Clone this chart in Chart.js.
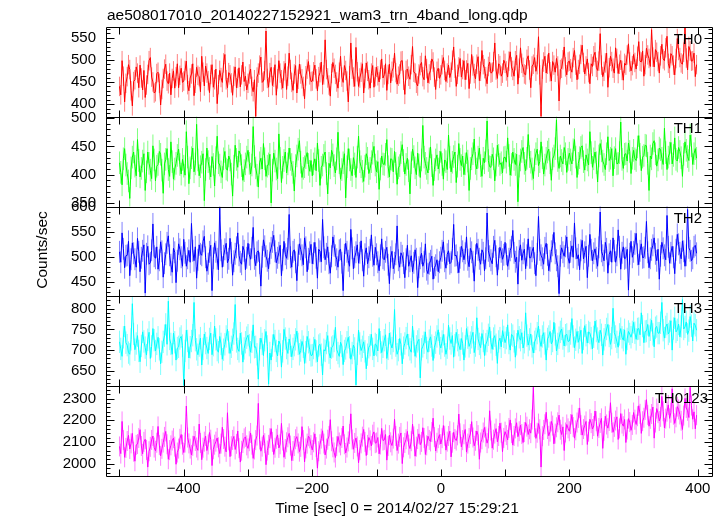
<!DOCTYPE html>
<html>
<head>
<meta charset="utf-8">
<title>ae508017010 WAM light curve</title>
<script src="https://cdn.jsdelivr.net/npm/chart.js@4.4.1/dist/chart.umd.min.js"></script>
<style>
  html, body { margin: 0; padding: 0; background: #fff; }
  #wrap { width: 723px; height: 516px; }
</style>
</head>
<body>
<div id="wrap"><canvas id="lc" width="723" height="516"></canvas></div>
<script>
// time bins (sec from 2014/02/27 15:29:21)
const binStart = -500;
const binSize = 2;

// counts/sec per band (one line = 100 s)
const th0 = [
  440,421,498,463,405,447,462,489,478,430,396,451,455,484,470,437,488,459,432,476,415,443,467,498,505,461,450,425,428,469,472,447,398,433,458,479,490,452,446,470,421,458,475,436,462,491,437,465,481,449,
  452,476,497,444,430,459,468,491,419,447,483,465,462,428,508,472,441,486,470,453,426,467,489,438,455,479,401,444,476,460,449,493,512,455,437,471,466,448,420,463,484,437,458,482,439,466,495,451,463,432,
  447,468,479,440,428,455,372,461,470,488,506,449,452,476,565,458,438,471,483,442,461,489,420,457,498,470,455,436,475,492,433,463,515,478,449,431,468,487,425,456,490,468,457,440,412,464,479,496,466,451,
  452,473,488,457,430,462,471,495,444,466,545,478,459,443,418,469,494,481,467,450,436,472,508,461,449,487,476,452,405,464,538,479,461,440,528,473,440,459,472,491,425,458,493,474,455,436,470,487,438,462,
  483,464,450,478,502,459,466,491,431,467,490,448,474,482,515,471,445,463,468,497,498,454,422,476,479,463,456,489,530,472,470,447,441,468,487,494,462,455,509,480,448,468,476,502,495,461,433,474,481,458,
  466,489,505,476,451,470,488,460,472,499,529,481,440,467,484,503,461,478,498,455,477,492,435,468,512,486,469,457,490,507,453,474,521,489,480,462,446,485,495,470,472,496,538,477,458,491,487,463,470,499,
  492,475,461,497,518,484,476,463,498,510,445,481,527,492,483,468,466,501,509,477,437,486,490,505,474,489,552,466,372,479,495,508,470,490,515,473,452,496,488,472,503,486,407,478,481,500,529,484,466,495,
  497,480,472,505,521,488,455,478,490,512,533,494,468,486,502,471,446,491,485,509,517,483,476,497,559,488,462,474,493,515,438,482,508,496,481,470,527,503,469,490,499,476,454,492,488,511,536,495,475,487,
  512,494,479,508,541,497,495,520,463,489,526,511,503,485,568,506,484,523,517,496,470,509,535,502,498,527,553,492,481,514,509,488,466,503,548,521,505,493,490,517,572,504,477,530,520,497,498,515,462,489
];
const th1 = [
  421,404,382,428,446,417,402,389,358,412,431,440,415,398,462,425,396,411,424,437,372,405,440,420,408,393,451,426,389,415,418,441,436,408,367,419,427,446,409,397,458,423,392,410,420,434,445,418,401,427,
  415,399,476,431,384,412,430,447,405,419,489,426,398,414,422,437,354,409,447,423,411,396,432,418,380,430,468,421,417,405,395,428,441,410,408,433,426,401,362,415,452,427,413,442,436,416,390,407,419,431,
  443,420,401,417,485,432,412,399,378,421,429,410,455,428,397,415,419,436,350,408,438,424,410,393,472,429,386,413,425,440,403,419,447,427,418,404,371,416,433,445,460,422,395,411,414,430,439,418,406,425,
  398,419,428,407,456,425,381,413,417,434,440,402,366,420,412,443,435,416,403,428,475,421,392,409,421,437,359,414,446,426,409,398,430,419,395,431,468,423,414,406,388,415,437,429,402,411,423,438,450,417,
  405,423,374,410,433,419,418,436,462,414,396,428,427,405,441,420,383,412,416,439,453,425,401,418,429,407,366,421,445,432,412,400,438,417,395,426,487,431,420,411,403,428,449,416,381,409,426,435,410,422,
  441,418,392,426,423,409,470,431,405,422,432,440,386,415,455,427,416,433,400,419,439,424,372,411,428,437,463,420,410,431,447,416,397,429,421,442,495,425,414,413,436,428,389,417,452,434,418,421,403,430,
  431,422,465,434,399,418,440,427,418,436,352,415,426,441,448,420,407,429,471,432,422,410,393,426,437,445,416,423,458,430,401,417,429,440,445,421,390,428,433,446,497,425,411,433,425,419,448,437,404,427,
  438,426,419,444,462,431,395,420,430,448,451,423,408,435,426,417,476,439,413,428,440,421,387,433,455,442,424,418,409,437,467,425,429,446,398,430,446,419,420,439,493,427,411,436,437,424,456,441,402,429,
  443,428,425,449,469,436,407,431,434,452,451,420,372,433,428,455,460,437,415,426,447,444,429,418,482,439,409,431,438,457,419,434,465,427,424,448,441,430,397,436,458,443,432,425,470,451,418,437,446,429
];
const th2 = [
  510,489,548,516,478,502,503,531,462,495,528,507,495,479,537,510,470,498,512,524,427,506,521,485,488,513,566,501,497,520,475,493,530,511,459,487,505,528,542,503,484,469,517,509,448,492,526,515,499,481,
  535,508,481,497,513,489,567,512,492,520,457,494,524,506,503,531,541,499,471,486,510,523,432,497,528,510,496,474,598,513,479,502,515,527,488,496,537,508,463,491,506,519,548,503,490,485,521,512,474,498,
  527,504,495,518,559,496,482,509,512,487,441,500,534,521,501,492,476,507,518,530,543,511,488,498,508,523,462,494,531,505,497,516,585,499,479,510,514,489,452,503,526,515,503,484,538,519,470,496,509,525,
  486,507,529,498,457,515,511,490,575,519,494,506,520,487,467,501,540,522,503,495,479,513,515,488,432,504,527,510,492,481,555,517,476,499,509,524,487,508,532,493,461,505,518,486,499,514,544,502,483,519,
  505,489,472,503,536,497,494,510,519,484,446,499,511,476,488,505,562,493,479,508,502,487,458,495,523,481,491,502,470,488,514,496,438,479,497,507,481,490,526,474,466,486,492,501,455,478,483,494,470,489,
  498,512,530,491,477,505,512,486,489,516,565,502,503,489,468,498,521,511,494,507,540,494,480,517,509,490,451,503,527,514,496,485,514,508,472,497,588,512,501,493,486,520,533,501,463,496,519,510,495,504,
  529,505,481,496,513,520,553,508,490,499,445,512,524,493,507,515,476,503,536,498,498,511,519,487,462,506,581,514,503,497,485,518,527,504,472,492,511,523,549,507,493,481,426,502,518,509,501,521,540,498,
  487,510,522,499,568,517,496,504,474,513,533,496,509,521,458,502,545,514,492,507,516,498,481,519,590,511,503,492,529,516,467,505,512,489,538,512,489,503,554,520,475,508,520,496,498,515,433,506,531,499,
  510,526,547,505,484,512,526,498,499,518,571,509,478,497,514,523,538,506,492,515,455,502,529,517,503,494,583,520,487,508,521,499,466,514,545,525,508,496,532,511,481,503,595,518,512,492,497,520,523,507
];
const th3 = [
  720,703,685,731,758,718,712,694,690,726,812,739,701,716,735,698,672,710,744,721,706,688,725,743,680,709,752,724,698,715,731,702,667,696,720,735,762,714,818,727,715,690,741,719,676,705,708,728,733,711,
  615,698,748,722,681,707,722,736,815,724,702,689,711,729,664,703,739,717,705,692,727,741,689,712,758,726,700,695,733,715,678,701,714,733,750,719,692,708,725,740,810,721,703,697,741,716,671,704,719,730,
  736,712,695,720,761,707,708,690,630,702,729,715,687,724,745,709,618,693,676,711,738,722,698,686,722,714,659,697,750,728,705,692,727,711,684,703,712,726,746,715,690,699,721,708,668,695,733,719,701,687,
  688,705,726,697,672,711,714,689,640,701,698,717,735,694,681,706,709,722,755,701,693,685,719,710,665,698,704,719,731,707,678,693,712,704,616,691,748,716,699,708,720,697,655,689,707,712,738,703,686,715,
  712,698,752,719,694,708,724,737,680,703,741,716,705,722,798,711,690,700,728,714,667,706,716,729,739,712,702,695,758,721,685,709,721,726,633,702,709,718,744,705,695,723,732,711,675,707,718,733,749,716,
  705,721,738,711,690,706,760,728,716,735,683,712,743,724,712,701,728,716,676,709,752,730,709,718,731,743,694,711,778,727,715,706,740,722,687,714,722,737,756,719,702,728,735,713,668,721,729,708,747,732,
  718,729,761,717,700,738,735,721,683,714,748,731,724,742,705,719,790,735,712,726,739,709,693,720,727,741,758,724,709,733,742,716,676,727,733,745,715,722,767,738,698,715,730,744,751,728,710,736,738,721,
  722,740,776,733,706,725,745,719,730,748,692,727,759,736,717,744,741,729,703,732,770,746,728,718,748,737,688,726,736,751,762,734,714,729,801,742,733,720,707,738,752,731,724,749,690,727,745,739,731,744,
  767,742,726,751,752,737,790,758,718,745,746,762,733,749,772,738,708,754,757,741,741,766,815,748,729,756,763,739,745,771,700,752,778,744,749,763,732,757,822,751,756,768,738,747,781,759,722,765,760,748
];
const th0123 = [
  2080,2047,2195,2109,2030,2073,2105,2131,2068,2094,2140,2056,2012,2087,2091,2119,2157,2082,2046,2101,2113,2064,1985,2058,2078,2110,2128,2075,2060,2097,2172,2086,2037,2069,2098,2124,2149,2090,2021,2063,2085,2107,2118,2079,1998,2052,2070,2115,2135,2088,
  2052,2098,2266,2121,2094,2070,2041,2083,2127,2105,2075,2062,2183,2096,2019,2074,2102,2128,2061,2089,2144,2111,1992,2067,2088,2102,2119,2076,2047,2093,2168,2114,2079,2055,2235,2108,2033,2081,2110,2126,2066,2092,2151,2072,2008,2060,2096,2117,2124,2085,
  2071,2104,2142,2088,2025,2066,2109,2130,2278,2112,2058,2079,2131,2095,1996,2061,2087,2118,2162,2101,2043,2074,2115,2133,2073,2090,2186,2107,2030,2068,2099,2122,2140,2084,2015,2059,2082,2113,2125,2094,2056,2078,2171,2109,2009,2071,2093,2127,2117,2086,
  2064,2099,2138,2077,1980,2058,2090,2116,2152,2093,2041,2070,2111,2128,2203,2104,2076,2052,2029,2081,2126,2098,2085,2119,2174,2090,2050,2075,2103,2137,2230,2112,2067,2096,2119,2080,2005,2063,2094,2125,2158,2101,2038,2087,2121,2108,2082,2134,2147,2095,
  2098,2121,2046,2089,2163,2107,2110,2135,2017,2082,2132,2099,2084,2116,2205,2128,2061,2093,2124,2142,2001,2076,2096,2113,2149,2088,2070,2104,2183,2126,2035,2079,2114,2138,2088,2101,2166,2119,2043,2085,2127,2110,2103,2146,2210,2123,2059,2097,2118,2134,
  2091,2118,2176,2129,2063,2102,2128,2150,2032,2097,2145,2114,2107,2131,2229,2140,2078,2109,2136,2158,2054,2093,2119,2137,2194,2121,2083,2106,2151,2132,2021,2098,2113,2144,2167,2125,2095,2117,2244,2153,2072,2111,2139,2162,2101,2128,2187,2143,2056,2119,
  2148,2132,2110,2165,2202,2141,2086,2128,2163,2189,2125,2150,2178,2137,2098,2146,2190,2171,2135,2159,2141,2204,2352,2168,2117,2143,2185,2159,1985,2127,2156,2182,2237,2160,2129,2148,2195,2176,2092,2139,2168,2191,2224,2157,2135,2170,2061,2144,2181,2163,
  2150,2183,2226,2169,2118,2154,2190,2211,2257,2178,2132,2160,2176,2195,2089,2148,2205,2187,2160,2174,2243,2196,2127,2165,2188,2209,2071,2152,2219,2181,2164,2197,2281,2189,2145,2170,2199,2216,2112,2163,2231,2185,2173,2204,2098,2158,2208,2192,2154,2179,
  2236,2203,2181,2219,2267,2230,2140,2196,2212,2248,2295,2225,2173,2207,2229,2261,2118,2190,2254,2233,2197,2216,2310,2242,2165,2208,2240,2271,2209,2235,2345,2226,2186,2214,2263,2250,2227,2198,2158,2222,2301,2257,2244,2213,2352,2268,2205,2239,2161,2224
];

const bandNames = ['TH0', 'TH1', 'TH2', 'TH3', 'TH0123'];
const bandRates = [th0, th1, th2, th3, th0123];
const bandErrors = [22, 20, 22, 27, 46];   // typical 1-sigma bar
const bandColors = ['#ff0000', '#00ff00', '#0000ff', '#00ffff', '#ff00ff'];
const barColors = ['rgba(255,0,0,0.5)', 'rgba(0,255,0,0.5)', 'rgba(0,0,255,0.5)', 'rgba(0,255,255,0.5)', 'rgba(255,0,255,0.5)'];

// tick labels
const xTickLabels = [-400, -200, 0, 200, 400];
const yTickLabels = [
  [400, 450, 500, 550],
  [350, 400, 450, 500],
  [450, 500, 550, 600],
  [650, 700, 750, 800],
  [2000, 2100, 2200, 2300]
];

const yRanges = [[371.4, 574], [343.5, 502.3], [420.4, 600.8], [613, 829.6], [1944, 2357]];
const yMinorStep = [10, 10, 10, 10, 20];

const FONT = '"Liberation Sans", Arial, Helvetica, sans-serif';
Chart.defaults.font.family = FONT;
Chart.defaults.color = '#000';

const yIds = bandNames.map((n, k) => 'y' + k);

const datasets = bandRates.map((rates, k) => ({
  label: bandNames[k],
  data: rates.map((v, i) => ({ x: binStart + i * binSize, y: v })),
  yAxisID: yIds[k],
  borderColor: bandColors[k],
  borderWidth: 1,
  pointRadius: 0,
  tension: 0
}));

const scales = {
  x: {
    type: 'linear',
    min: -521,
    max: 422,
    grid: { display: false, drawTicks: false },
    border: { display: false },
    ticks: {
      stepSize: 100,
      includeBounds: false,
      autoSkip: false,
      maxRotation: 0,
      padding: 4,
      font: { size: 15 },
      callback: v => xTickLabels.includes(v) ? String(v).replace('-', '\u2212') : ''
    },
    afterFit: s => { s.height = 40; }
  }
};
// stacked scales are laid out bottom-up, so add the last band first
yIds.slice().reverse().forEach(id => {
  const k = yIds.indexOf(id);
  scales[id] = {
    type: 'linear',
    position: 'left',
    stack: 'bands',
    stackWeight: 1,
    min: yRanges[k][0],
    max: yRanges[k][1],
    grid: { display: false, drawTicks: false },
    border: { display: false },
    ticks: {
      stepSize: yMinorStep[k],
      includeBounds: false,
      autoSkip: false,
      padding: 10,
      font: { size: 15 },
      callback: v => yTickLabels[k].includes(v) ? String(v) : ''
    },
    afterFit: s => { s.width = 106; }
  };
});

// error bars under the lines
const errorBars = {
  id: 'errorBars',
  beforeDatasetsDraw(chart) {
    const c = chart.ctx, xs = chart.scales.x, a = chart.chartArea;
    chart.data.datasets.forEach((ds, k) => {
      const s = chart.scales[ds.yAxisID];
      c.save();
      c.beginPath();
      c.rect(a.left, s.top, a.right - a.left, s.bottom - s.top);
      c.clip();
      c.strokeStyle = barColors[k];
      c.lineWidth = 1;
      c.beginPath();
      ds.data.forEach(p => {
        const x = xs.getPixelForValue(p.x);
        c.moveTo(x, s.getPixelForValue(p.y - bandErrors[k]));
        c.lineTo(x, s.getPixelForValue(p.y + bandErrors[k]));
      });
      c.stroke();
      c.restore();
    });
  }
};

// panel frames, inward ticks and texts
const frames = {
  id: 'frames',
  afterDraw(chart) {
    const c = chart.ctx, xs = chart.scales.x, a = chart.chartArea;
    c.save();
    c.strokeStyle = '#000';
    c.lineWidth = 1;
    yIds.forEach((id, k) => {
      const s = chart.scales[id];
      const T = Math.round(s.top) + 0.5, B = Math.round(s.bottom) + 0.5;
      const L = Math.round(a.left) + 0.5, R = Math.round(a.right) + 0.5;
      c.beginPath();
      c.rect(L, T, R - L, B - T);
      s.ticks.forEach(t => {
        const y = Math.round(s.getPixelForValue(t.value)) + 0.5;
        const len = yTickLabels[k].includes(t.value) ? 8 : 4;
        c.moveTo(L, y); c.lineTo(L + len, y);
        c.moveTo(R, y); c.lineTo(R - len, y);
      });
      xs.ticks.forEach(t => {
        const x = Math.round(xs.getPixelForValue(t.value)) + 0.5;
        c.moveTo(x, T); c.lineTo(x, T + 7);
        c.moveTo(x, B); c.lineTo(x, B - 7);
      });
      c.stroke();

      c.fillStyle = '#000';
      c.font = '15px ' + FONT;
      c.textAlign = 'right';
      c.textBaseline = 'alphabetic';
      c.fillText(bandNames[k], a.right - (k === 4 ? 4 : 10), s.top + 16.5);
    });

    c.fillStyle = '#000';
    c.font = '15.5px ' + FONT;
    c.textAlign = 'left';
    c.textBaseline = 'alphabetic';
    c.fillText('ae508017010_20140227152921_wam3_trn_4band_long.qdp', 107, 20);

    c.textAlign = 'center';
    c.fillText('Time [sec] 0 = 2014/02/27 15:29:21', 397, 513);

    c.translate(47, 250);
    c.rotate(-Math.PI / 2);
    c.fillText('Counts/sec', 0, 0);
    c.restore();
  }
};

new Chart(document.getElementById('lc'), {
  type: 'line',
  data: { datasets },
  options: {
    responsive: false,
    animation: false,
    layout: { padding: { top: 27, right: 11, left: 0, bottom: 0 } },
    plugins: { legend: { display: false }, tooltip: { enabled: false } },
    scales
  },
  plugins: [errorBars, frames]
});
</script>
</body>
</html>
